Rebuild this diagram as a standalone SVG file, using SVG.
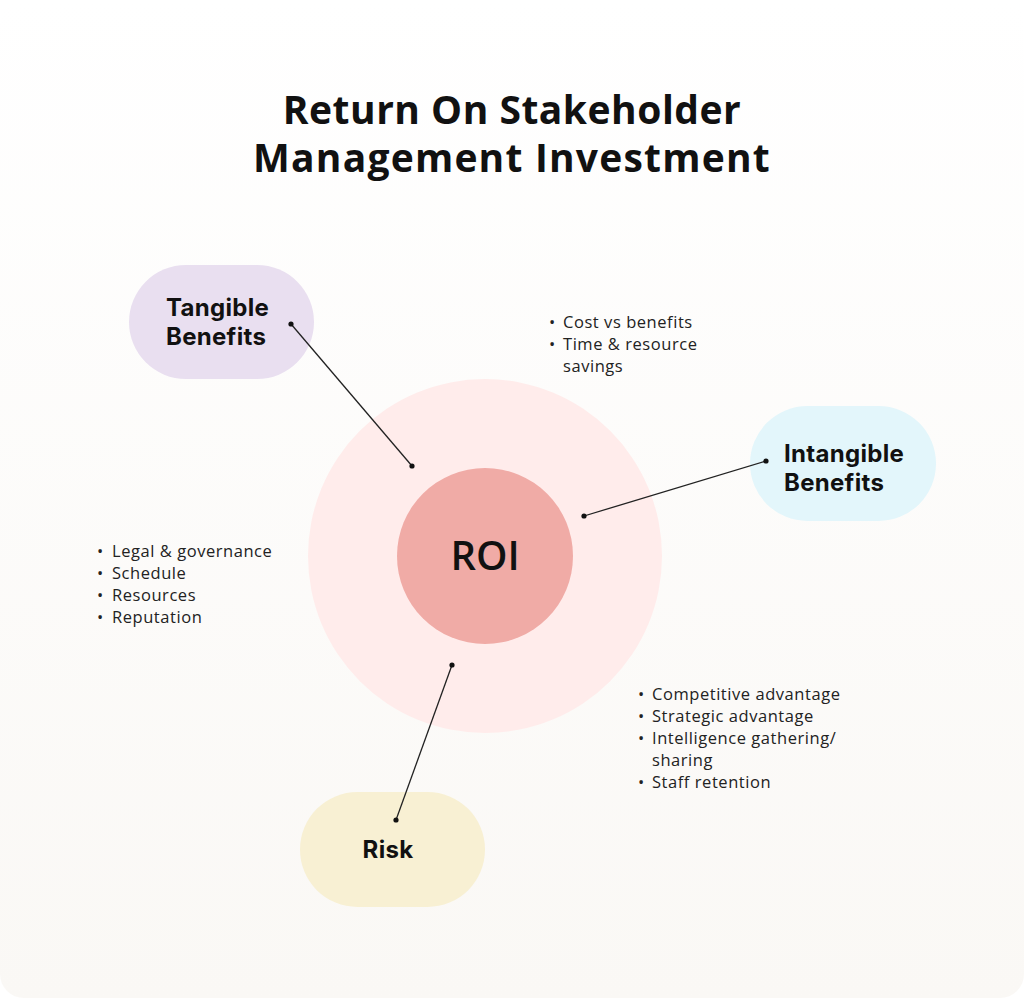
<svg xmlns="http://www.w3.org/2000/svg" width="1024" height="998" viewBox="0 0 1024 998">
<defs>
<linearGradient id="bg" x1="0" y1="0" x2="0" y2="1">
<stop offset="0" stop-color="#ffffff"/>
<stop offset="1" stop-color="#faf8f5"/>
</linearGradient>
</defs>
<style>
.title{font-family:"Open Sans",Inter,"Liberation Sans",sans-serif;font-weight:700;font-size:39px;letter-spacing:0.5px;fill:#111111;text-anchor:middle}
.node{font-family:Inter,"Open Sans","Liberation Sans",sans-serif;font-weight:700;font-size:24px;letter-spacing:0.3px;fill:#111111}
.roi{font-family:"Open Sans",Inter,"Liberation Sans",sans-serif;font-weight:600;font-size:40px;fill:#111111;text-anchor:middle}
.item{font-family:"Open Sans",Inter,"Liberation Sans",sans-serif;font-size:16.5px;letter-spacing:0.55px;fill:#222222}
.line{stroke:#222222;stroke-width:1.3;fill:none}
.dot{fill:#111111}
</style>
<rect x="0" y="0" width="1024" height="998" rx="24" fill="url(#bg)"/>
<g id="title">
<text class="title" x="512" y="124">Return On Stakeholder</text>
<text class="title" x="512" y="172" style="letter-spacing:1.2px">Management Investment</text>
</g>
<g id="roi">
<circle cx="485" cy="556" r="177" fill="#ffeceb"/>
<circle cx="485" cy="556" r="88" fill="#f0aba6"/>
<text class="roi" x="485" y="570">ROI</text>
</g>
<g id="tangible">
<rect x="129" y="265" width="185" height="114" rx="57" fill="#e9dff0"/>
<text class="node" x="166" y="316">Tangible</text>
<text class="node" x="166" y="345">Benefits</text>
</g>
<g id="intangible">
<rect x="750" y="406" width="186" height="115" rx="57.5" fill="#e3f6fb"/>
<text class="node" x="784" y="462">Intangible</text>
<text class="node" x="784" y="491">Benefits</text>
</g>
<g id="risk">
<rect x="300" y="792" width="185" height="115" rx="57.5" fill="#f8f0d3"/>
<text class="node" x="388" y="858" text-anchor="middle">Risk</text>
</g>
<g id="connectors">
<line class="line" x1="291" y1="324" x2="412" y2="466"/>
<circle class="dot" cx="291" cy="324" r="2.6"/>
<circle class="dot" cx="412" cy="466" r="2.6"/>
<line class="line" x1="766" y1="461" x2="584" y2="516"/>
<circle class="dot" cx="766" cy="461" r="2.6"/>
<circle class="dot" cx="584" cy="516" r="2.6"/>
<line class="line" x1="452" y1="665" x2="396" y2="820"/>
<circle class="dot" cx="452" cy="665" r="2.6"/>
<circle class="dot" cx="396" cy="820" r="2.6"/>
</g>
<g id="list-tangible">
<text class="item" x="549" y="328">•</text><text class="item" x="563" y="328">Cost vs benefits</text>
<text class="item" x="549" y="350">•</text><text class="item" x="563" y="350">Time &amp; resource</text>
<text class="item" x="563" y="372">savings</text>
</g>
<g id="list-risk">
<text class="item" x="97" y="557">•</text><text class="item" x="112" y="557">Legal &amp; governance</text>
<text class="item" x="97" y="579">•</text><text class="item" x="112" y="579">Schedule</text>
<text class="item" x="97" y="601">•</text><text class="item" x="112" y="601">Resources</text>
<text class="item" x="97" y="623">•</text><text class="item" x="112" y="623">Reputation</text>
</g>
<g id="list-intangible">
<text class="item" x="638" y="700">•</text><text class="item" x="652" y="700">Competitive advantage</text>
<text class="item" x="638" y="722">•</text><text class="item" x="652" y="722">Strategic advantage</text>
<text class="item" x="638" y="744">•</text><text class="item" x="652" y="744">Intelligence gathering/</text>
<text class="item" x="652" y="766">sharing</text>
<text class="item" x="638" y="788">•</text><text class="item" x="652" y="788">Staff retention</text>
</g>
</svg>
